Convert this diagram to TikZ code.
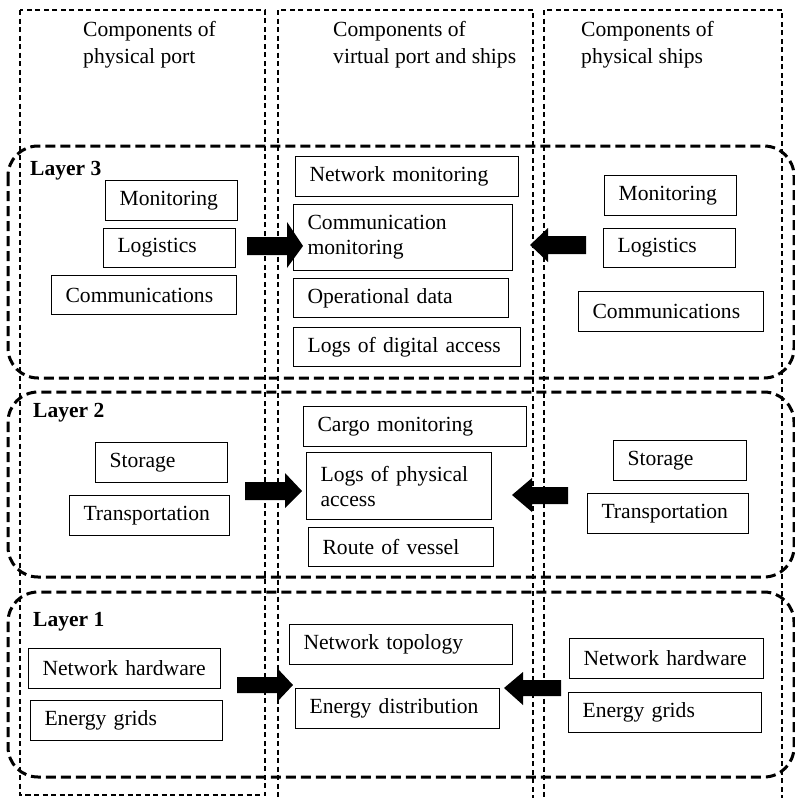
\documentclass[tikz,border=0pt]{standalone}
\usepackage{fontspec}
\setmainfont{Liberation Serif}
\begin{document}
\begin{tikzpicture}[x=1pt,y=-1pt,
  colframe/.style={draw=black, line width=1.4pt, dash pattern=on 5pt off 3.5pt},
  layerframe/.style={draw=black, line width=3pt, dash pattern=on 10pt off 5pt, rounded corners=30pt},
  comp/.style={draw=black, line width=1.1pt, anchor=north west, inner xsep=14pt, inner ysep=0pt,
    align=left, font=\fontsize{21.6}{25}\selectfont},
  header/.style={anchor=north west, inner sep=0pt, align=left, font=\fontsize{21.6}{27}\selectfont},
  layerlabel/.style={anchor=north west, inner sep=0pt, font=\fontsize{21.5}{25}\selectfont\bfseries},
  blockarrow/.style={fill=black}
]
\useasboundingbox (0,0) rectangle (795,798);
\clip (0,0) rectangle (795,798);

% column frames
\draw[colframe] (20,10) rectangle (265,795);
\draw[colframe] (278,10) rectangle (533,830);
\draw[colframe] (544,10) rectangle (782,830);

\node[header] (hport) at (83,21) {Components of\\physical port};
\node[header] (hvirt) at (333,21) {Components of\\virtual port and ships};
\node[header] (hship) at (581,21) {Components of\\physical ships};

% layer frames
\draw[layerframe] (8,146) rectangle (794,378);
\draw[layerframe] (8,392) rectangle (794,577);
\draw[layerframe] (8,592) rectangle (794,777);

\node[layerlabel] (lay3) at (30,161) {Layer 3};
\node[layerlabel] (lay2) at (33,403) {Layer 2};
\node[layerlabel] (lay1) at (33,612) {Layer 1};

% Layer 3
\node[comp, minimum width=132pt, text width=104pt, minimum height=40pt] (p3mon) at (105,180) {Monitoring};
\node[comp, minimum width=132pt, text width=104pt, minimum height=39pt] (p3log) at (103,228) {Logistics};
\node[comp, minimum width=185pt, text width=157pt, minimum height=39pt] (p3com) at (51,275) {Communications};

\node[comp, minimum width=223pt, text width=195pt, minimum height=40pt] (v3net) at (295,156) {Network monitoring};
\node[comp, minimum width=219pt, text width=191pt, minimum height=66pt] (v3com) at (293,204) {Communication\\monitoring};
\node[comp, minimum width=215pt, text width=187pt, minimum height=39pt] (v3ops) at (293,278) {Operational data};
\node[comp, minimum width=227pt, text width=199pt, minimum height=39pt] (v3log) at (293,327) {Logs of digital access};

\node[comp, minimum width=132pt, text width=104pt, minimum height=40pt] (s3mon) at (604,175) {Monitoring};
\node[comp, minimum width=132pt, text width=104pt, minimum height=39pt] (s3log) at (603,228) {Logistics};
\node[comp, minimum width=185pt, text width=157pt, minimum height=40pt] (s3com) at (578,291) {Communications};

% Layer 2
\node[comp, minimum width=132pt, text width=104pt, minimum height=40pt] (p2sto) at (95,442) {Storage};
\node[comp, minimum width=160pt, text width=132pt, minimum height=40pt] (p2tra) at (69,495) {Transportation};

\node[comp, minimum width=223pt, text width=195pt, minimum height=40pt] (v2car) at (303,406) {Cargo monitoring};
\node[comp, minimum width=185pt, text width=157pt, minimum height=67pt] (v2log) at (306,452) {Logs of physical\\access};
\node[comp, minimum width=185pt, text width=157pt, minimum height=39pt] (v2rou) at (308,527) {Route of vessel};

\node[comp, minimum width=133pt, text width=105pt, minimum height=40pt] (s2sto) at (613,440) {Storage};
\node[comp, minimum width=161pt, text width=133pt, minimum height=40pt] (s2tra) at (587,493) {Transportation};

% Layer 1
\node[comp, minimum width=192pt, text width=164pt, minimum height=40pt] (p1net) at (28,648) {\mbox{Network hardware}};
\node[comp, minimum width=192pt, text width=164pt, minimum height=40pt] (p1ene) at (30,700) {Energy grids};

\node[comp, minimum width=223pt, text width=195pt, minimum height=40pt] (v1top) at (289,624) {Network topology};
\node[comp, minimum width=204pt, text width=176pt, minimum height=40pt] (v1ene) at (295,688) {Energy distribution};

\node[comp, minimum width=194pt, text width=166pt, minimum height=40pt] (s1net) at (569,638) {\mbox{Network hardware}};
\node[comp, minimum width=193pt, text width=165pt, minimum height=40pt] (s1ene) at (568,692) {Energy grids};

% block arrows towards the virtual column
\fill[blockarrow] (247,237) -- (287,237) -- (287,222) -- (303,246) -- (287,268) -- (287,255) -- (247,255) -- cycle;
\fill[blockarrow] (586,236) -- (548,236) -- (548,228) -- (530,245) -- (548,262) -- (548,254) -- (586,254) -- cycle;

\fill[blockarrow] (245,482) -- (285,482) -- (285,473) -- (302,491) -- (285,508) -- (285,500) -- (245,500) -- cycle;
\fill[blockarrow] (568,487) -- (532,487) -- (532,478) -- (512,495) -- (532,512) -- (532,504) -- (568,504) -- cycle;

\fill[blockarrow] (237,677) -- (277,677) -- (277,668) -- (293,685) -- (277,702) -- (277,693) -- (237,693) -- cycle;
\fill[blockarrow] (561,680) -- (523,680) -- (523,672) -- (504,688) -- (523,705) -- (523,696) -- (561,696) -- cycle;
\end{tikzpicture}
\end{document}
